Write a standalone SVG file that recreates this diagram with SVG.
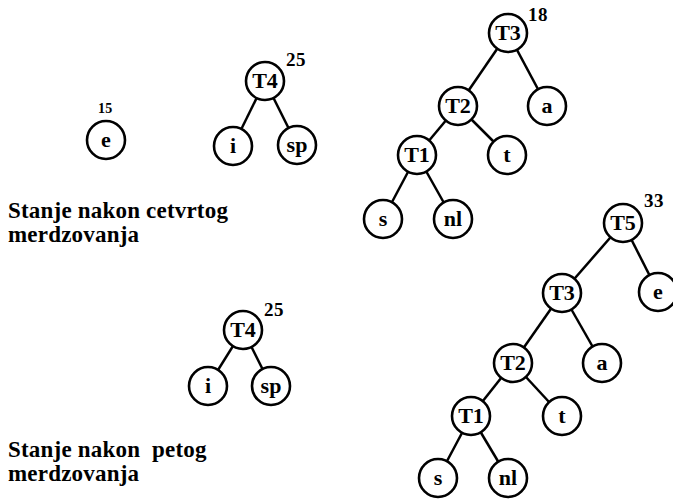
<svg xmlns="http://www.w3.org/2000/svg" width="673" height="499" viewBox="0 0 673 499">
  <style>
    .bg { fill: #ffffff; }
    .node circle { fill: #ffffff; stroke: #000000; stroke-width: 2.6; }
    .node text { font-family: "Liberation Serif", "Times New Roman", serif; font-weight: bold; font-size: 22px; fill: #000000; text-anchor: middle; dominant-baseline: central; }
    .edges line { stroke: #000000; stroke-width: 2.5; }
    .weight { font-family: "Liberation Serif", "Times New Roman", serif; font-weight: bold; font-size: 19px; letter-spacing: 0.5px; fill: #000000; }
    .weight.small { font-size: 14px; letter-spacing: 0.3px; }
    .caption { font-family: "Liberation Serif", "Times New Roman", serif; font-weight: bold; font-size: 23px; letter-spacing: 0.2px; fill: #000000; }
  </style>
  <rect class="bg" width="673" height="499"/>

  <!-- edges -->
  <g id="connectors" class="edges">
    <!-- T4 (top) -->
    <line x1="265" y1="81" x2="233" y2="146"/>
    <line x1="265" y1="81" x2="297" y2="145"/>
    <!-- first big tree -->
    <line x1="508" y1="33" x2="458" y2="106"/>
    <line x1="508" y1="33" x2="547" y2="106"/>
    <line x1="458" y1="106" x2="417" y2="155"/>
    <line x1="458" y1="106" x2="507" y2="155"/>
    <line x1="417" y1="155" x2="383" y2="219"/>
    <line x1="417" y1="155" x2="453" y2="219"/>
    <!-- T4 (bottom) -->
    <line x1="243" y1="330" x2="208" y2="386"/>
    <line x1="243" y1="330" x2="271" y2="386"/>
    <!-- second big tree -->
    <line x1="623" y1="223" x2="562" y2="293"/>
    <line x1="623" y1="223" x2="658" y2="292"/>
    <line x1="562" y1="293" x2="513" y2="363"/>
    <line x1="562" y1="293" x2="602" y2="363"/>
    <line x1="513" y1="363" x2="471" y2="416"/>
    <line x1="513" y1="363" x2="562" y2="416"/>
    <line x1="471" y1="416" x2="438" y2="478"/>
    <line x1="471" y1="416" x2="508" y2="478"/>
  </g>

  <!-- state after the fourth merge -->
  <g id="n-e1" class="node"><circle cx="106" cy="140" r="19"/><text x="106" y="139">e</text></g>
  <text class="weight small" x="98" y="113">15</text>

  <g id="n-T4a" class="node"><circle cx="265" cy="81" r="19"/><text x="265" y="80">T4</text></g>
  <g id="n-i1" class="node"><circle cx="233" cy="146" r="19"/><text x="233" y="145">i</text></g>
  <g id="n-sp1" class="node"><circle cx="297" cy="145" r="19"/><text x="297" y="144">sp</text></g>
  <text class="weight" x="286" y="66">25</text>

  <g id="n-T3a" class="node"><circle cx="508" cy="33" r="19"/><text x="508" y="32">T3</text></g>
  <g id="n-T2a" class="node"><circle cx="458" cy="106" r="19"/><text x="458" y="105">T2</text></g>
  <g id="n-a1" class="node"><circle cx="547" cy="106" r="19"/><text x="547" y="105">a</text></g>
  <g id="n-T1a" class="node"><circle cx="417" cy="155" r="19"/><text x="417" y="154">T1</text></g>
  <g id="n-t1" class="node"><circle cx="507" cy="155" r="19"/><text x="507" y="154">t</text></g>
  <g id="n-s1" class="node"><circle cx="383" cy="219" r="19"/><text x="383" y="218">s</text></g>
  <g id="n-nl1" class="node"><circle cx="453" cy="219" r="19"/><text x="453" y="218">nl</text></g>
  <text class="weight" x="528" y="21">18</text>

  <text class="caption" x="8" y="218">Stanje nakon cetvrtog</text>
  <text class="caption" x="8" y="242">merdzovanja</text>

  <!-- state after the fifth merge -->
  <g id="n-T4b" class="node"><circle cx="243" cy="330" r="19"/><text x="243" y="329">T4</text></g>
  <g id="n-i2" class="node"><circle cx="208" cy="386" r="19"/><text x="208" y="385">i</text></g>
  <g id="n-sp2" class="node"><circle cx="271" cy="386" r="19"/><text x="271" y="385">sp</text></g>
  <text class="weight" x="264" y="316">25</text>

  <g id="n-T5" class="node"><circle cx="623" cy="223" r="19"/><text x="623" y="222">T5</text></g>
  <g id="n-T3b" class="node"><circle cx="562" cy="293" r="19"/><text x="562" y="292">T3</text></g>
  <g id="n-e2" class="node"><circle cx="658" cy="292" r="19"/><text x="658" y="291">e</text></g>
  <g id="n-T2b" class="node"><circle cx="513" cy="363" r="19"/><text x="513" y="362">T2</text></g>
  <g id="n-a2" class="node"><circle cx="602" cy="363" r="19"/><text x="602" y="362">a</text></g>
  <g id="n-T1b" class="node"><circle cx="471" cy="416" r="19"/><text x="471" y="415">T1</text></g>
  <g id="n-t2" class="node"><circle cx="562" cy="416" r="19"/><text x="562" y="415">t</text></g>
  <g id="n-s2" class="node"><circle cx="438" cy="478" r="19"/><text x="438" y="477">s</text></g>
  <g id="n-nl2" class="node"><circle cx="508" cy="478" r="19"/><text x="508" y="477">nl</text></g>
  <text class="weight" x="644" y="207">33</text>

  <text class="caption" x="8" y="457" xml:space="preserve">Stanje nakon  petog</text>
  <text class="caption" x="8" y="481">merdzovanja</text>
</svg>
